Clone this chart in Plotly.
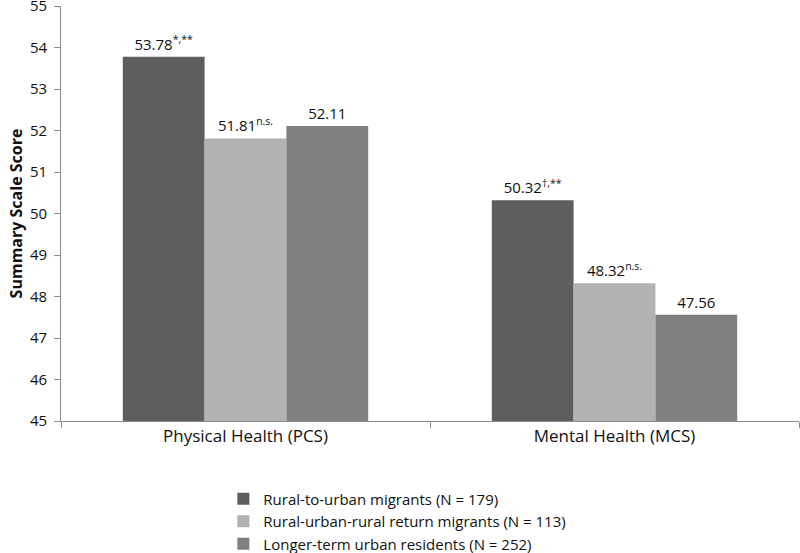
import plotly.graph_objects as go

categories = ["Physical Health (PCS)", "Mental Health (MCS)"]
series_names = [
    "Rural-to-urban migrants (N = 179)",
    "Rural-urban-rural return migrants (N = 113)",
    "Longer-term urban residents (N = 252)",
]
rural_to_urban = [53.78, 50.32]
return_migrants = [51.81, 48.32]
urban_residents = [52.11, 47.56]
rural_to_urban_marks = ["*,**", "†,**"]
return_marks = ["n.s.", "n.s."]
urban_marks = ["", ""]
colors = ["#5e5e5e", "#b2b2b2", "#7f7f7f"]

font_family = "Open Sans, Liberation Sans, sans-serif"

fig = go.Figure()
for name, vals, marks, col in zip(
    series_names,
    [rural_to_urban, return_migrants, urban_residents],
    [rural_to_urban_marks, return_marks, urban_marks],
    colors,
):
    texts = [f"{v:.2f}" + (f"<sup>{m}</sup>" if m else "") for v, m in zip(vals, marks)]
    fig.add_trace(go.Bar(
        x=categories, y=vals, name=name,
        marker=dict(color=col, line=dict(width=0)),
        text=texts, textposition="outside", cliponaxis=False,
        textfont=dict(size=15, color="#111111", family=font_family),
    ))

fig.update_layout(
    width=800, height=553,
    margin=dict(l=61, r=1, t=6, b=132, autoexpand=False),
    plot_bgcolor="white", paper_bgcolor="white",
    barmode="group", bargap=0.335, bargroupgap=0,
    font=dict(family=font_family, color="#111111"),
    showlegend=True,
    legend=dict(
        x=0.22, y=-0.148, xanchor="left", yanchor="top",
        font=dict(size=15, color="#111111"),
        tracegroupgap=0, itemwidth=30,
    ),
)
fig.update_yaxes(
    range=[45, 55], dtick=1, showgrid=False, automargin=False,
    showline=True, linecolor="#8c8c8c", linewidth=1,
    ticks="outside", ticklen=6, tickcolor="#8c8c8c",
    ticklabeloverflow="allow", ticksuffix=" ",
    tickfont=dict(size=15, color="#111111"),
    title=dict(text="<b>Summary Scale Score</b>", font=dict(size=16, color="#111111"), standoff=3),
    zeroline=False,
)
fig.update_xaxes(
    showline=True, linecolor="#8c8c8c", linewidth=1, automargin=False,
    ticks="outside", ticklen=6, tickcolor="#8c8c8c", tickson="boundaries",
    tickfont=dict(size=17, color="#111111"),
    showgrid=False,
)

fig.write_html(
    "out.html",
    config={"displayModeBar": False},
    post_script="document.body.style.margin='0';document.body.style.overflow='hidden';",
)
